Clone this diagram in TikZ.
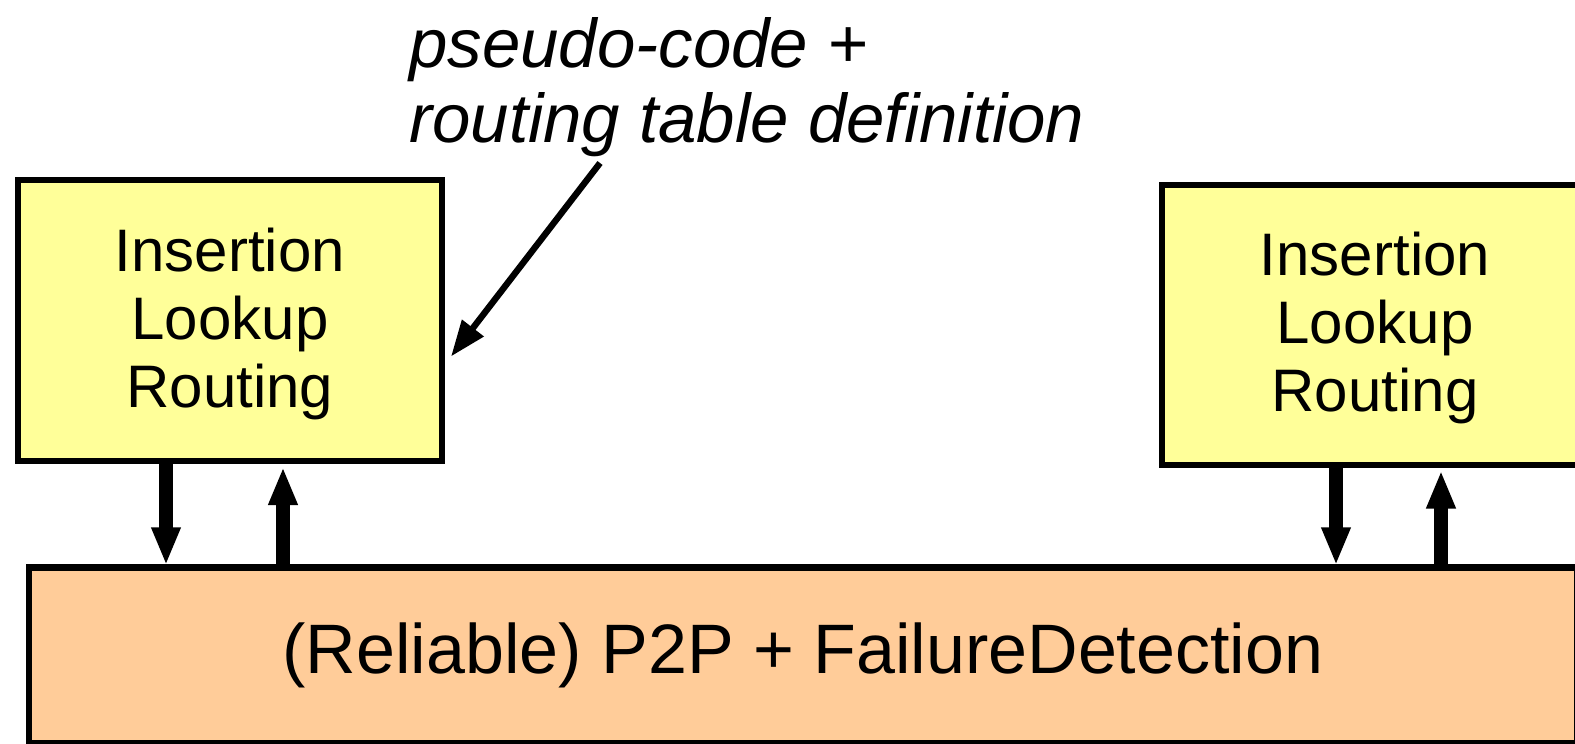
\documentclass[tikz,border=0pt]{standalone}
\usepackage{fontspec}
\setmainfont{Liberation Sans}
\usetikzlibrary{arrows.meta}
\definecolor{boxyellow}{HTML}{FFFF99}
\definecolor{boxorange}{HTML}{FFCC99}
\tikzset{
  ybox/.style={draw=black, line width=3pt, fill=boxyellow, minimum width=212pt, minimum height=140.5pt, inner sep=0pt},
  ytext/.style={align=center, inner sep=0pt, yshift=-1.5pt, font=\fontsize{30}{34}\selectfont},
  obox/.style={draw=black, line width=3.25pt, fill=boxorange, minimum width=774pt, minimum height=87.75pt, inner sep=0pt, font=\fontsize{35}{40}\selectfont},
  fatarrow/.style={line width=7pt, -{Triangle[length=19pt,width=13.5pt]}},
  notearrow/.style={line width=3.2pt, -{Triangle[length=18pt,width=13pt]}},
  note/.style={align=left, inner sep=0pt, font=\fontsize{34.5}{37.5}\selectfont\itshape}
}
\begin{document}
\begin{tikzpicture}[x=0.5pt,y=-0.5pt]
\clip (0,0) rectangle (1575,744);
\useasboundingbox (0,0) rectangle (1575,744);
\fill[white] (0,0) rectangle (1575,744);
\node[ybox, label={[ytext]center:Insertion\\Lookup\\Routing}] (L) at (230,320.5) {};
\node[ybox, minimum width=213pt, minimum height=140pt, label={[ytext]center:Insertion\\Lookup\\Routing}] (R) at (1375,324.5) {};
\node[obox] (P) at (803,655.25) {(Reliable) P2P + FailureDetection};
\node[note, anchor=base west] (N) at (409,142) {pseudo-code +\\routing table definition};
% left pair
\path ([xshift=-32pt]L.south) coordinate (ld);
\path ([xshift=26.5pt]L.south) coordinate (lu);
\draw[fatarrow, shorten >=-0.5pt] (ld) -- (ld |- P.north);
\draw[fatarrow, shorten >=1.5pt] (lu |- P.north) -- (lu);
% right pair
\path ([xshift=-19.5pt]R.south) coordinate (rd);
\path ([xshift=33pt]R.south) coordinate (ru);
\draw[fatarrow, shorten >=-0.5pt] (rd) -- (rd |- P.north);
\draw[fatarrow, shorten >=1.5pt] (ru |- P.north) -- (ru);
% note arrow
\coordinate (ns) at (600,163);
\path ([xshift=3pt,yshift=-18pt]L.east) coordinate (nt);
\draw[notearrow] (ns) -- (nt);
\end{tikzpicture}
\end{document}
